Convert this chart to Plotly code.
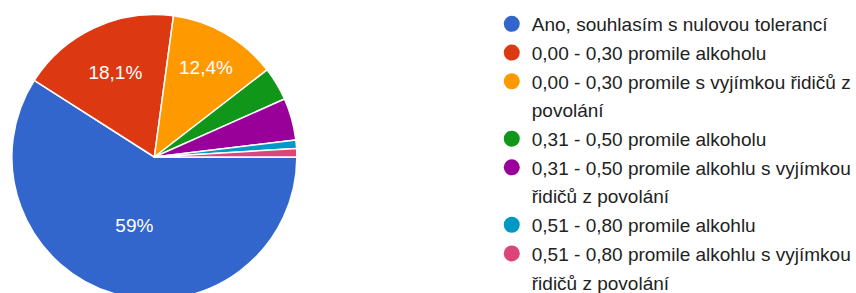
import plotly.graph_objects as go

# Data
categories = [
    "Ano, souhlasím s nulovou tolerancí",
    "0,00 - 0,30 promile alkoholu",
    "0,00 - 0,30 promile s vyjímkou řidičů z povolání",
    "0,31 - 0,50 promile alkoholu",
    "0,31 - 0,50 promile alkohlu s vyjímkou řidičů z povolání",
    "0,51 - 0,80 promile alkohlu",
    "0,51 - 0,80 promile alkohlu s vyjímkou řidičů z povolání",
]
# legend lines as wrapped in the reference
legend_lines = [
    ["Ano, souhlasím s nulovou tolerancí"],
    ["0,00 - 0,30 promile alkoholu"],
    ["0,00 - 0,30 promile s vyjímkou řidičů z", "povolání"],
    ["0,31 - 0,50 promile alkoholu"],
    ["0,31 - 0,50 promile alkohlu s vyjímkou", "řidičů z povolání"],
    ["0,51 - 0,80 promile alkohlu"],
    ["0,51 - 0,80 promile alkohlu s vyjímkou", "řidičů z povolání"],
]
counts = [62, 19, 13, 4, 5, 1, 1]
slice_labels = ["59%", "18,1%", "12,4%", "", "", "", ""]
colors = ["#3366CC", "#DC3912", "#FF9900", "#109618", "#990099", "#0099C6", "#DD4477"]

W, H = 856, 310
CX, CY, R = 156, 157, 144
fig = go.Figure()
fig.add_trace(go.Pie(
    labels=categories,
    values=counts,
    text=slice_labels,
    textinfo="text",
    textposition="inside",
    insidetextorientation="horizontal",
    textfont=dict(family="Liberation Sans, Arial, sans-serif", size=19, color="white"),
    marker=dict(colors=colors, line=dict(color="white", width=1.5)),
    sort=False,
    direction="clockwise",
    rotation=90,
    showlegend=False,
    domain=dict(x=[(CX - R) / W, (CX + R) / W], y=[(H - CY - R) / H, (H - CY + R) / H]),
    hoverinfo="label+percent",
))

k = 0
for lines, c in zip(legend_lines, colors):
    for i, line in enumerate(lines):
        fig.add_trace(go.Scatter(
            x=[None], y=[None], mode="markers", name=line,
            legendgroup="g%d" % k,
            marker=dict(symbol="circle", size=16, color=c if i == 0 else "rgba(0,0,0,0)"),
            showlegend=True, hoverinfo="skip",
        ))
        k += 1

fig.update_layout(
    width=W, height=H,
    margin=dict(l=0, r=0, t=0, b=0),
    paper_bgcolor="white", plot_bgcolor="white",
    xaxis=dict(visible=False), yaxis=dict(visible=False),
    legend=dict(
        x=497 / W, xanchor="left", y=1 - 5 / H, yanchor="top",
        font=dict(family="Liberation Sans, Arial, sans-serif", size=19, color="#222222"),
        bgcolor="rgba(0,0,0,0)", tracegroupgap=1,
    ),
    separators=", ",
)

fig.write_html(
    "out.html",
    config={"displayModeBar": False},
    post_script="document.body.style.margin='0';document.body.style.overflow='hidden';document.documentElement.style.overflow='hidden';",
)
